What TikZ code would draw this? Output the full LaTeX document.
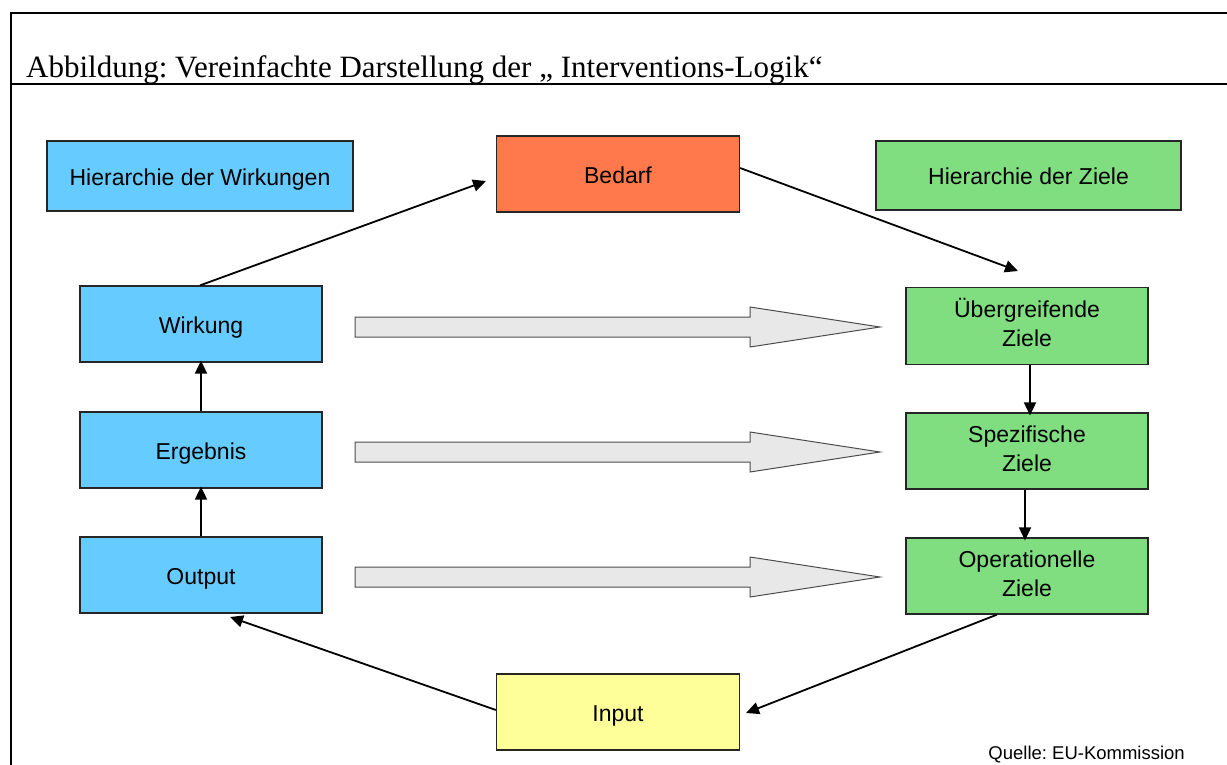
\documentclass[tikz,border=0pt]{standalone}
\usepackage{fontspec}
\setmainfont{Liberation Serif}
\setsansfont{Liberation Sans}
\usetikzlibrary{arrows.meta,calc}
\frenchspacing
\definecolor{cblue}{HTML}{66CCFF}
\definecolor{corange}{HTML}{FF794C}
\definecolor{cgreen}{HTML}{80DD80}
\definecolor{cyellow}{HTML}{FFFF99}
\definecolor{cgray}{HTML}{E8E8E8}
\newcommand{\boxline}[1]{\raisebox{-5.75pt}[0pt][0pt]{#1}}
\tikzset{
  box/.style={draw=black!85, line width=1.2pt, inner sep=0pt, align=center,
    font=\sffamily\fontsize{23}{29.5}\selectfont, text=black},
  one/.style={text height=18pt, text depth=0pt},
  wide/.style={minimum width=306pt, minimum height=70pt},
  std/.style={minimum width=242pt, minimum height=76pt},
  conn/.style={line width=1.8pt, -{Triangle[length=13pt,width=12pt]}},
  blockarrow/.style={draw=black!70, line width=1pt, fill=cgray, line join=miter},
  frame/.style={line width=2.5pt}
}
\begin{document}
\begin{tikzpicture}[x=1pt,y=-1pt]
\useasboundingbox (0,0) rectangle (1227,764);
% frame
\draw[frame] (1228,13) -- (11,13) -- (11,766);
\draw[frame] (11,84) -- (1228,84);
\node[anchor=base west, inner sep=0, font=\fontsize{31}{34}\selectfont] (title) at (26,77)
  {Abbildung: Vereinfachte Darstellung der „ Interventions-Logik“};
% boxes
\node[box, one, wide, fill=cblue] (hw) at (200,176) {Hierarchie der Wirkungen};
\node[box, one, std, minimum width=243pt, fill=corange] (bedarf) at (618,174) {Bedarf};
\node[box, one, wide, minimum width=305pt, minimum height=69pt, fill=cgreen] (hz) at (1028.5,175.5) {Hierarchie der Ziele};
\node[box, one, std, fill=cblue] (wirkung) at (201,324) {Wirkung};
\node[box, one, std, fill=cblue] (ergebnis) at (201,450) {Ergebnis};
\node[box, one, std, fill=cblue] (output) at (201,575) {Output};
\node[box, std, minimum height=77pt, fill=cgreen] (ueber) at (1027,326) {\boxline{Übergreifende}\\\boxline{Ziele}};
\node[box, std, fill=cgreen] (spez) at (1027,451) {\boxline{Spezifische}\\\boxline{Ziele}};
\node[box, std, fill=cgreen] (oper) at (1027,576) {\boxline{Operationelle}\\\boxline{Ziele}};
\node[box, one, std, minimum width=243pt, fill=cyellow] (input) at (618,712) {Input};
% free ends
\coordinate (tB) at (486,181);
\coordinate (tU) at (1018,271);
\coordinate (tI) at (746,713);
\coordinate (tO) at (230,617);
% connectors
\draw[conn] ([xshift=-1pt]wirkung.north) -- (tB);
\draw[conn] ([yshift=6pt]bedarf.east) -- (tU);
\draw[conn] ([xshift=3pt]ueber.south) -- ([xshift=3pt,yshift=-3pt]spez.north);
\draw[conn] ([xshift=-2pt]spez.south) -- ([xshift=-2pt,yshift=-3pt]oper.north);
\draw[conn] ([xshift=-30pt]oper.south) -- (tI);
\draw[conn] ([yshift=2pt]input.west) -- (tO);
\draw[conn] (output.north) -- ([yshift=2pt]ergebnis.south);
\draw[conn] (ergebnis.north) -- ([yshift=2pt]wirkung.south);
% block arrows
\foreach \cy in {327,452,577}{
  \draw[blockarrow] (355,\cy-10) -- (750,\cy-10) -- (750,\cy-20) -- (880,\cy) -- (750,\cy+20) -- (750,\cy+10) -- (355,\cy+10) -- cycle;
}
\node[anchor=base east, inner sep=0, font=\sffamily\fontsize{18.5}{20}\selectfont] (src) at (1185,759) {Quelle: EU-Kommission};
\end{tikzpicture}
\end{document}
